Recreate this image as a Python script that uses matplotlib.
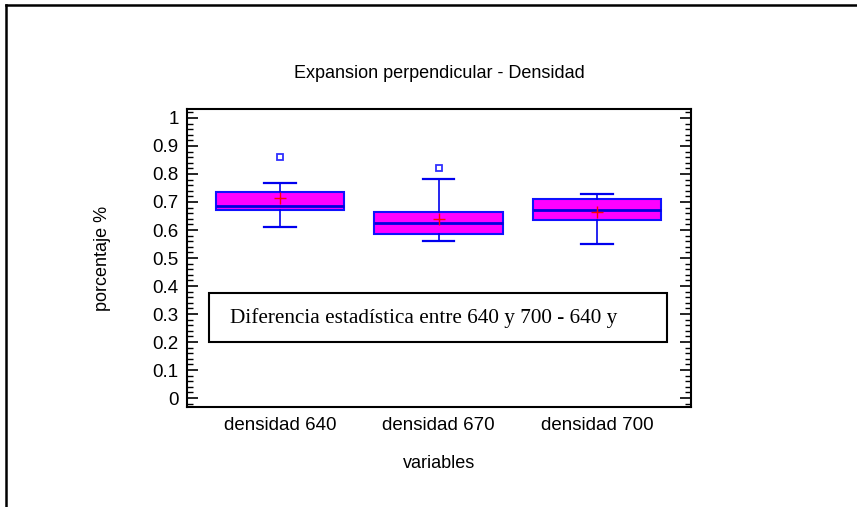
import matplotlib
matplotlib.use('Agg')
import matplotlib.pyplot as plt
from matplotlib.patches import Rectangle
from matplotlib.lines import Line2D
from matplotlib.ticker import MultipleLocator

# box statistics
labels = ['densidad 640', 'densidad 670', 'densidad 700']
whislo = [0.611, 0.561, 0.549]
q1 = [0.670, 0.584, 0.635]
med = [0.687, 0.625, 0.671]
q3 = [0.735, 0.666, 0.710]
whishi = [0.769, 0.781, 0.729]
means = [0.715, 0.640, 0.666]
fliers = [[0.861], [0.820], []]

note = 'Diferencia estadística entre 640 y 700 - 640 y'

plt.rcParams['font.family'] = ['Liberation Sans', 'DejaVu Sans']

fig = plt.figure(figsize=(8.57, 5.07), dpi=100)
ax = fig.add_axes([0.2182, 0.1972, 0.5881, 0.5878])

stats = []
for i in range(len(labels)):
    stats.append({'label': labels[i], 'whislo': whislo[i], 'q1': q1[i], 'med': med[i],
                  'q3': q3[i], 'whishi': whishi[i], 'mean': means[i], 'fliers': fliers[i]})

ax.bxp(stats, positions=[1, 2, 3], widths=0.81, patch_artist=True, showmeans=True,
       boxprops=dict(facecolor='#ff00ff', edgecolor='#1010ff', linewidth=1.5),
       medianprops=dict(color='#0000dd', linewidth=2),
       whiskerprops=dict(color='#0000ee', linewidth=1.2),
       capprops=dict(color='#0000ee', linewidth=1.6),
       meanprops=dict(marker='+', markeredgecolor='red', markersize=8, markeredgewidth=1),
       flierprops=dict(marker='s', markerfacecolor='none', markeredgecolor='#3030ff',
                       markersize=5, markeredgewidth=1.3),
       capwidths=0.2)

ax.set_xlim(0.413, 3.593)
ax.set_ylim(-0.032, 1.032)
ax.yaxis.set_minor_locator(MultipleLocator(0.02))
ax.set_yticks([i / 10 for i in range(11)])
ax.set_yticklabels(['0', '0.1', '0.2', '0.3', '0.4', '0.5', '0.6', '0.7', '0.8', '0.9', '1'])
ax.tick_params(axis='y', which='major', direction='in', length=8, width=1.2,
               right=True, labelsize=13.5, pad=6)
ax.tick_params(axis='y', which='minor', direction='in', length=4, width=1, right=True)
ax.tick_params(axis='x', length=0, labelsize=13.5, pad=7)
for s in ax.spines.values():
    s.set_linewidth(1.5)

ax.set_title('Expansion perpendicular - Densidad', fontsize=13, pad=22)
ax.set_ylabel('porcentaje %', fontsize=13, labelpad=30)
ax.set_xlabel('variables', fontsize=13, labelpad=15)

# note box
ax.add_patch(Rectangle((0.0437, 0.218), 0.9083, 0.165, transform=ax.transAxes,
                       fill=False, edgecolor='black', linewidth=1.5, zorder=5))
ax.text(0.085, 0.282, note, transform=ax.transAxes, fontsize=15.3,
        family=['Liberation Serif', 'DejaVu Serif'], va='baseline', zorder=6)

# outer frame (top and left only)
fig.add_artist(Line2D([0.007, 1.0], [0.991, 0.991], color='black', linewidth=1.8))
fig.add_artist(Line2D([0.0075, 0.0075], [0.0, 0.991], color='black', linewidth=1.8))

fig.savefig('out.png', dpi=100)
